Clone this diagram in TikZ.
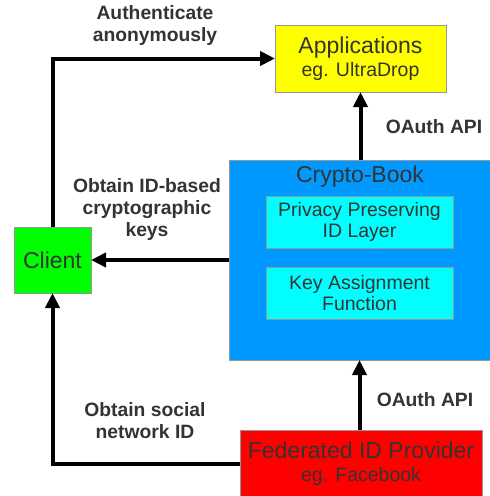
\documentclass[tikz,border=0pt]{standalone}
\usepackage{fontspec}
\setmainfont{Liberation Sans}
\usetikzlibrary{arrows.meta}
\definecolor{boxtext}{RGB}{51,51,51}
\definecolor{boxline}{RGB}{150,150,150}
\definecolor{cbblue}{RGB}{0,153,255}
\definecolor{cbcyan}{RGB}{0,255,255}
\definecolor{appyellow}{RGB}{255,255,0}
\definecolor{clientgreen}{RGB}{0,255,0}
\definecolor{fedred}{RGB}{255,0,0}
\tikzstyle{box} = [rectangle, draw=boxline, line width=0.8pt, text=boxtext,
    align=center, inner sep=0pt, outer sep=0pt, font=\fontsize{23}{23}\selectfont]
\tikzstyle{subbox} = [box, fill=cbcyan, minimum width=187pt, minimum height=52pt,
    font=\fontsize{19.5}{21}\selectfont]
\tikzstyle{lbl} = [text=boxtext, align=center, font=\bfseries\fontsize{19.3}{22}\selectfont]
\tikzstyle{arrow} = [line width=4pt, -{Triangle[length=15pt,width=14pt]}]

\begin{document}
\begin{tikzpicture}[x=1pt, y=-1pt]
            \useasboundingbox (0,0) rectangle (490,496);
            % Boxes
            \node[box, fill=appyellow, minimum width=171pt, minimum height=67pt]
            (apps) at (360.5,58.5) {Applications\\\fontsize{19.5}{23}\selectfont eg. UltraDrop};
            \node[box, fill=cbblue, minimum width=261pt, minimum height=200pt]
            (cb) at (359.5,260) {};
            \node[text=boxtext, font=\fontsize{23}{23}\selectfont] (cbtitle) at (360,177) {Crypto-Book};
            \node[subbox] (privacy) at (359.5,222) {Privacy Preserving\\ID Layer};
            \node[subbox] (keyfn) at (359.5,293) {Key Assignment\\Function};
            \node[box, fill=clientgreen, minimum width=77pt, minimum height=66pt]
            (client) at (52.5,260) {Client};
            \node[box, fill=fedred, minimum width=242pt, minimum height=68pt]
            (fed) at (361,464) {Federated ID Provider\\\fontsize{19.5}{23}\selectfont eg. Facebook};
            % Labels
            \node[lbl] (authlbl) at (155,26) {Authenticate\\anonymously};
            \node[lbl] (oauthtop) at (434,127) {OAuth API};
            \node[lbl] (keyslbl) at (147,210) {Obtain ID-based\\cryptographic\\keys};
            \node[lbl] (sociallbl) at (145,421) {Obtain social\\network ID};
            \node[lbl] (oauthbot) at (425,400) {OAuth API};
            % Arrows
            \draw[arrow] (client.north) |- (apps.west);
            \draw[arrow] (cb.north -| apps.south) -- (apps.south);
            \draw[arrow] (cb.west) -- (client.east);
            \draw[arrow] (fed.north -| cb.south) -- (cb.south);
            \draw[arrow] (fed.west) -| (client.south);

        \end{tikzpicture}
\end{document}
